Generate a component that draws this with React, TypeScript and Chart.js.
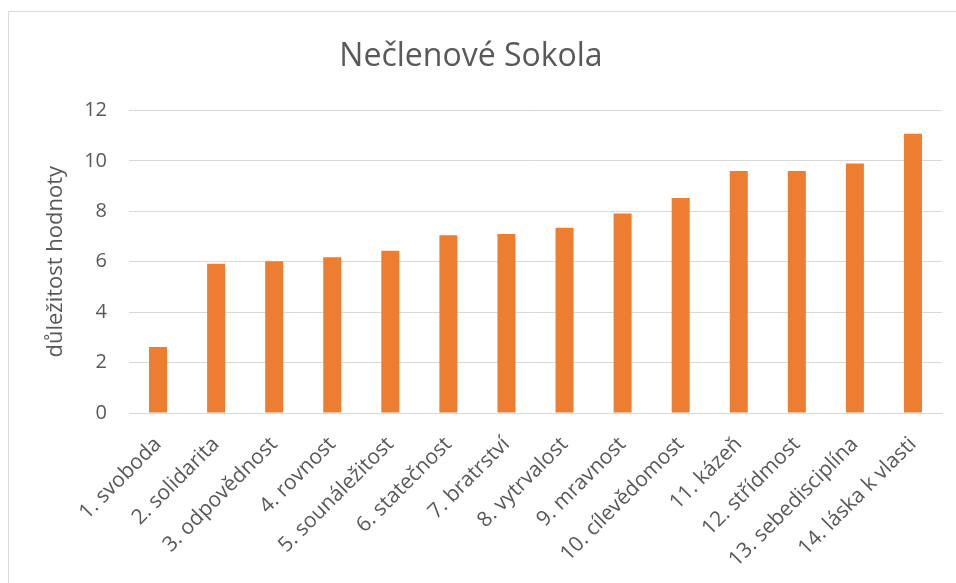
import React, { useEffect, useRef } from "react";
import { Chart, registerables } from "chart.js";

Chart.register(...registerables);

const categories: string[] = [
  "1. svoboda",
  "2. solidarita",
  "3. odpovědnost",
  "4. rovnost",
  "5. sounáležitost",
  "6. statečnost",
  "7. bratrství",
  "8. vytrvalost",
  "9. mravnost",
  "10. cílevědomost",
  "11. kázeň",
  "12. střídmost",
  "13. sebedisciplína",
  "14. láska k vlasti",
];

const values: number[] = [2.62, 5.92, 6.02, 6.18, 6.43, 7.05, 7.1, 7.35, 7.91, 8.53, 9.6, 9.6, 9.89, 11.07];

const chartTitle = "Nečlenové Sokola";
const yAxisTitle = "důležitost hodnoty";
const yMin = 0;
const yMax = 12;
const yStep = 2;

const FONT = "'Open Sans', 'Noto Sans', sans-serif";
const TEXT = "#595959";
const GRID = "#d9d9d9";
const BAR = "#ED7D31";

export default function App() {
  const ref = useRef<HTMLCanvasElement | null>(null);

  useEffect(() => {
    if (!ref.current) return;
    const chart = new Chart(ref.current, {
      type: "bar",
      data: {
        labels: categories,
        datasets: [
          {
            data: values,
            backgroundColor: BAR,
            borderWidth: 0,
            barPercentage: 0.31,
            categoryPercentage: 1,
          },
        ],
      },
      options: {
        animation: false,
        responsive: false,
        maintainAspectRatio: false,
        layout: { padding: { left: 0, right: 14, top: 0, bottom: 0 } },
        plugins: {
          legend: { display: false },
          tooltip: { enabled: false },
          title: {
            display: true,
            text: chartTitle,
            color: TEXT,
            font: { family: FONT, size: 32, weight: "normal", lineHeight: 1.2 },
            padding: { top: 38, bottom: 34 },
          },
        },
        scales: {
          x: {
            grid: { display: false, drawTicks: false },
            border: { display: true, color: GRID, width: 1 },
            ticks: {
              color: TEXT,
              font: { family: FONT, size: 21 },
              minRotation: 45,
              maxRotation: 45,
              autoSkip: false,
              padding: 19,
            },
            afterFit: (scale: any) => {
              scale.height = 170;
            },
          },
          y: {
            min: yMin,
            max: yMax,
            grid: { color: GRID, lineWidth: 1, drawTicks: false },
            border: { display: false },
            ticks: {
              stepSize: yStep,
              color: TEXT,
              font: { family: FONT, size: 20 },
              padding: 22,
            },
            title: {
              display: true,
              text: yAxisTitle,
              color: TEXT,
              font: { family: FONT, size: 22, lineHeight: 1.2 },
              padding: { top: 43, bottom: 0 },
            },
            afterFit: (scale: any) => {
              scale.width = 129;
            },
          },
        },
      },
    });
    return () => chart.destroy();
  }, []);

  return (
    <div
      style={{
        position: "fixed",
        left: 0,
        top: 0,
        width: 956,
        height: 583,
        overflow: "hidden",
        background: "#fff",
      }}
    >
      <div
        style={{
          position: "absolute",
          left: 8,
          top: 11,
          width: 1000,
          height: 700,
          border: "1px solid #d9d9d9",
          boxSizing: "border-box",
        }}
      />
      <canvas
        ref={ref}
        width={956}
        height={583}
        style={{ position: "absolute", left: 0, top: 0, width: 956, height: 583 }}
      />
    </div>
  );
}
